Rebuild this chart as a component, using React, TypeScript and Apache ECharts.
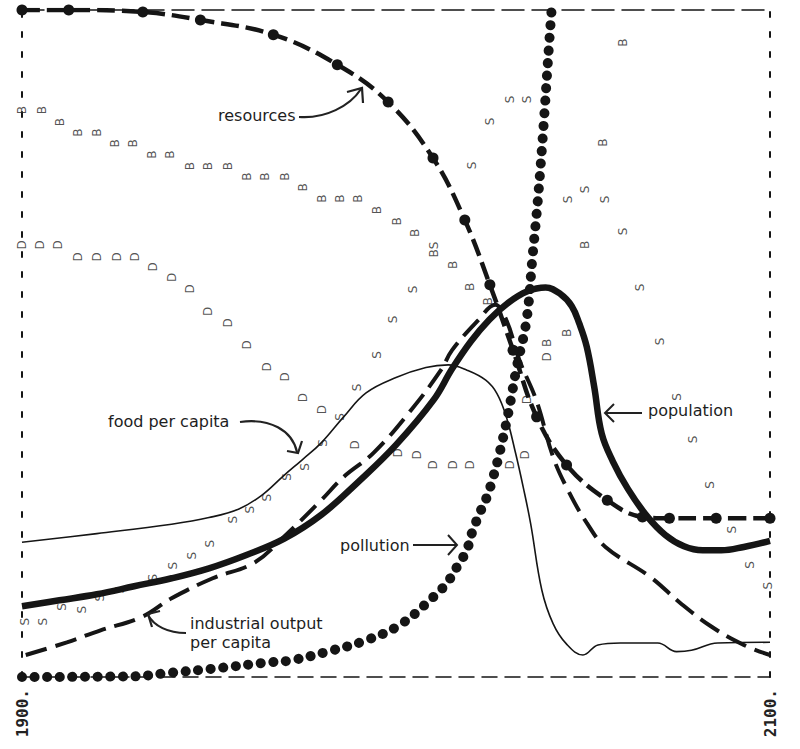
import React, { useEffect, useRef } from "react";
import * as echarts from "echarts";

// ---- data (years / relative level 0..100) ----
const popYears = [1900, 1910, 1920, 1930, 1940, 1950, 1960, 1970, 1980, 1990, 2000, 2010, 2015, 2020, 2025, 2030, 2035, 2040, 2044, 2047, 2049, 2051, 2053, 2055, 2058, 2062, 2067, 2072, 2077, 2082, 2087, 2093, 2100];
const popValues = [10.6, 11.5, 12.4, 13.6, 14.8, 16.3, 18.3, 20.7, 24.3, 29.3, 34.8, 41.5, 46.2, 50.3, 53.6, 56.1, 57.8, 58.4, 57.4, 55.6, 53.0, 49.5, 43.5, 36.5, 32.3, 28.2, 24.2, 21.3, 19.6, 19.0, 19.0, 19.5, 20.4];

const foodYears = [1900, 1920, 1940, 1950, 1958, 1964, 1970, 1975, 1980, 1986, 1992, 2000, 2008, 2014, 2019, 2024, 2027, 2029.5, 2032, 2034, 2036, 2039, 2042, 2045.5, 2050, 2054, 2060, 2070, 2075, 2079, 2086, 2100];
const foodValues = [20.2, 21.5, 22.9, 23.9, 25.2, 27.2, 30.2, 32.6, 35.1, 39.0, 42.6, 44.9, 46.4, 46.8, 46.0, 44.5, 42.5, 39.0, 33.5, 28.5, 23.0, 13.0, 8.0, 5.0, 3.3, 4.8, 5.1, 5.1, 3.8, 4.0, 5.1, 5.2];

const indYears = [1901, 1912, 1921, 1932, 1940, 1951, 1962, 1970, 1980, 1986, 1994, 2004, 2012, 2015, 2022, 2026.5, 2029.5, 2033, 2037.5, 2042, 2046, 2051, 2056, 2068, 2076, 2084.5, 2093, 2100];
const indValues = [3.3, 5.2, 7.0, 9.0, 11.8, 14.8, 17.1, 21.0, 26.5, 30.0, 33.6, 40.0, 46.0, 49.0, 53.5, 55.8, 53.5, 47.5, 41.5, 33.0, 28.0, 23.1, 19.5, 15.0, 11.1, 7.5, 4.8, 3.3];

const resYears = [1900, 1912.5, 1932.3, 1947.7, 1967.2, 1984.3, 1997.9, 2009.9, 2018.4, 2025.1, 2031.3, 2037.6, 2045.6, 2056.5, 2065.9, 2073.1, 2085.6, 2100];
const resValues = [100, 100, 99.7, 98.5, 96.3, 91.8, 86.2, 77.8, 68.5, 58.8, 49.0, 39.0, 31.8, 26.5, 24.0, 23.8, 23.8, 23.8];

const polYears = [1900, 1930, 1939, 1952, 1966, 1972, 1983, 1992, 2001, 2010, 2013.6, 2016.3, 2018.9, 2020.3, 2022.4, 2024.3, 2025.9, 2027.7, 2030, 2032.3, 2034.9, 2036.5, 2038, 2039.5, 2040.7, 2041.6];
const polValues = [0, 0.1, 0.6, 1.3, 2.2, 2.5, 4.0, 5.5, 7.8, 12.0, 14.1, 16.5, 19.0, 21.6, 24.6, 27.0, 29.8, 33.6, 39.5, 46.5, 53.5, 63.0, 72.0, 83.0, 93.0, 100];

// printed letters: B (birth rate), D (death rate), S (services per capita)
const bYears = [1900, 1905.3, 1910.2, 1915, 1920.1, 1924.9, 1929.7, 1934.8, 1939.6, 1944.9, 1949.7, 1955.1, 1960.2, 1965, 1970.3, 1975.1, 1980.2, 1985, 1989.8, 1994.9, 2000.3, 2005.1, 2010.1, 2015.3, 2019.8, 2024.6, 2040.4, 2045.7, 2050.5, 2055.4, 2060.7];
const bValues = [85, 85, 83.2, 81.6, 81.6, 80, 80, 78.3, 78.3, 76.6, 76.6, 76.6, 75, 75, 75, 73.4, 71.7, 71.7, 71.7, 70, 68.3, 66.6, 63.5, 61.8, 58.5, 56.3, 50.1, 51.6, 64.8, 80.1, 95.1];

const dYears = [1900, 1904.8, 1909.6, 1915, 1920.1, 1925.4, 1930.2, 1935, 1940.1, 1944.9, 1949.7, 1955.1, 1960.2, 1965.5, 1970.3, 1975.1, 1980.2, 1989, 2000.5, 2005.6, 2009.9, 2015.3, 2019.8, 2030.5, 2034.5, 2035, 2040.4];
const dValues = [64.8, 64.8, 64.8, 63, 63, 63, 63, 61.5, 59.9, 58.2, 54.8, 53.1, 49.8, 46.5, 45, 41.9, 40.1, 34.8, 33.6, 33.3, 31.8, 31.8, 31.8, 31.8, 33.3, 41.6, 48.0];

const sYears = [1900.8, 1905.6, 1910.7, 1916, 1920.9, 1926.2, 1935, 1940.4, 1945.5, 1950.3, 1956.4, 1961, 1965.5, 1970.9, 1975.7, 1980.5, 1985, 1989.6, 1994.9, 1999.2, 2004.6, 2010.1, 2020.3, 2025.1, 2030.5, 2035, 2046, 2050.5, 2055.9, 2060.7, 2065.3, 2070.6, 2075.1, 2079.4, 2084, 2089.9, 2094.7, 2099.5];
const sValues = [8.3, 8.3, 10.5, 10.1, 11.9, 13.1, 14.9, 16.7, 18.2, 20.0, 23.6, 25.1, 26.9, 30, 31.5, 35.1, 39, 43.4, 48.3, 53.6, 58.1, 64.7, 76.7, 83.3, 86.6, 86.6, 71.6, 73.1, 71.6, 66.8, 58.4, 50.3, 42, 35.6, 28.8, 22.1, 16.8, 13.7];

const xTickLabels = [1900, 2100];

const zip = (xs: number[], ys: number[]) => xs.map((x, i) => [x, ys[i]]);

const INK = "#151515";
const TEXT_FONT = "DejaVu Sans";
const SMOOTH = 0.4;

const letterSeries = (letter: string, xs: number[], ys: number[]) => ({
  type: "scatter",
  name: letter,
  data: zip(xs, ys),
  symbol: "circle",
  symbolSize: 1,
  itemStyle: { color: "rgba(0,0,0,0)" },
  silent: true,
  z: 1,
  label: {
    show: true,
    position: "inside",
    formatter: letter,
    rotate: 90,
    fontSize: 12,
    fontFamily: TEXT_FONT,
    color: "#262626",
  },
});

const annText = (text: string, x: number, y: number) => ({
  type: "text",
  x,
  y,
  z: 50,
  style: {
    text,
    fill: "#1e1e1e",
    font: `16px "${TEXT_FONT}"`,
    verticalAlign: "middle",
    align: "left",
  },
});

const arrowStyle = { stroke: "#222", lineWidth: 2.2, fill: "none" };

const lineSeries = (name: string, xs: number[], ys: number[], z: number, lineStyle: any, extra: any = {}) => ({
  type: "line",
  name,
  data: zip(xs, ys),
  smooth: SMOOTH,
  showSymbol: false,
  z,
  lineStyle: { color: INK, ...lineStyle },
  ...extra,
});

const option: any = {
  animation: false,
  backgroundColor: "#fff",
  grid: { left: 22, right: 30, top: 10, bottom: 72 },
  xAxis: [
    {
      type: "value",
      position: "bottom",
      min: 1900,
      max: 2100,
      interval: 100,
      axisLine: { show: true, onZero: false, lineStyle: { color: INK, width: 1.5, type: [15, 8] } },
      axisTick: { show: false },
      splitLine: { show: false },
      axisLabel: {
        show: true,
        rotate: 90,
        margin: 12,
        showMinLabel: true,
        showMaxLabel: true,
        fontFamily: "DejaVu Sans Mono",
        fontWeight: "bold",
        fontSize: 16,
        color: "#222",
        formatter: (v: number) => (xTickLabels.includes(v) ? `${v}.` : ""),
      },
    },
    {
      type: "value",
      position: "top",
      min: 1900,
      max: 2100,
      interval: 100,
      axisLine: { show: true, onZero: false, lineStyle: { color: INK, width: 1.5, type: [22, 8] } },
      axisTick: { show: false },
      splitLine: { show: false },
      axisLabel: { show: false },
    },
  ],
  yAxis: [
    {
      type: "value",
      position: "left",
      min: 0,
      max: 100,
      axisLine: { show: true, onZero: false, lineStyle: { color: INK, width: 2, type: [5, 15] } },
      axisTick: { show: false },
      splitLine: { show: false },
      axisLabel: { show: false },
    },
    {
      type: "value",
      position: "right",
      min: 0,
      max: 100,
      axisLine: { show: true, onZero: false, lineStyle: { color: INK, width: 2, type: [5, 15] } },
      axisTick: { show: false },
      splitLine: { show: false },
      axisLabel: { show: false },
    },
  ],
  series: [
    letterSeries("B", bYears, bValues),
    letterSeries("D", dYears, dValues),
    letterSeries("S", sYears, sValues),
    lineSeries("pollution", polYears, polValues, 3, { width: 10, type: [0.1, 12.5], cap: "round" }),
    lineSeries("resources", resYears, resValues, 4, { width: 4.5, type: [18, 7] }, {
      symbol: "circle",
      symbolSize: 11,
      showSymbol: true,
      showAllSymbol: true,
      itemStyle: { color: INK },
    }),
    lineSeries("industrial output per capita", indYears, indValues, 4, { width: 4, type: [22, 9] }),
    lineSeries("food per capita", foodYears, foodValues, 5, { width: 1.6 }),
    lineSeries("population", popYears, popValues, 6, { width: 6.5 }),
  ],
  graphic: [
    annText("resources", 218, 115),
    { type: "bezierCurve", z: 50, shape: { x1: 299, y1: 117, cpx1: 325, cpy1: 119, cpx2: 350, cpy2: 106, x2: 361, y2: 89 }, style: arrowStyle },
    { type: "polyline", z: 50, shape: { points: [[347, 92], [362, 88], [363, 103]] }, style: arrowStyle },

    annText("food per capita", 108, 421),
    { type: "bezierCurve", z: 50, shape: { x1: 240, y1: 422, cpx1: 270, cpy1: 418, cpx2: 292, cpy2: 430, x2: 297, y2: 452 }, style: arrowStyle },
    { type: "polyline", z: 50, shape: { points: [[287, 451], [298, 453], [302, 441]] }, style: arrowStyle },

    annText("population", 648, 410),
    { type: "line", z: 50, shape: { x1: 642, y1: 413, x2: 605, y2: 413 }, style: { stroke: "#222", lineWidth: 2 } },
    { type: "polyline", z: 50, shape: { points: [[614, 404], [605, 413], [614, 422]] }, style: { stroke: "#222", lineWidth: 2, fill: "none" } },

    annText("pollution", 340, 545),
    { type: "line", z: 50, shape: { x1: 413, y1: 545, x2: 457, y2: 545 }, style: { stroke: "#222", lineWidth: 2 } },
    { type: "polyline", z: 50, shape: { points: [[448, 535], [457, 545], [448, 555]] }, style: { stroke: "#222", lineWidth: 2, fill: "none" } },

    annText("industrial output", 190, 623),
    annText("per capita", 190, 642),
    { type: "bezierCurve", z: 50, shape: { x1: 186, y1: 633, cpx1: 168, cpy1: 633, cpx2: 154, cpy2: 626, x2: 148, y2: 615 }, style: arrowStyle },
    { type: "polyline", z: 50, shape: { points: [[160, 611], [148, 614], [152, 627]] }, style: arrowStyle },
  ],
};

export default function App() {
  const ref = useRef<HTMLDivElement>(null);
  useEffect(() => {
    if (!ref.current) return;
    const chart = echarts.init(ref.current, null, { renderer: "svg" });
    chart.setOption(option);
    return () => chart.dispose();
  }, []);
  return (
    <div
      ref={ref}
      style={{ position: "fixed", left: 0, top: 0, width: 800, height: 749, background: "#fff" }}
    />
  );
}
